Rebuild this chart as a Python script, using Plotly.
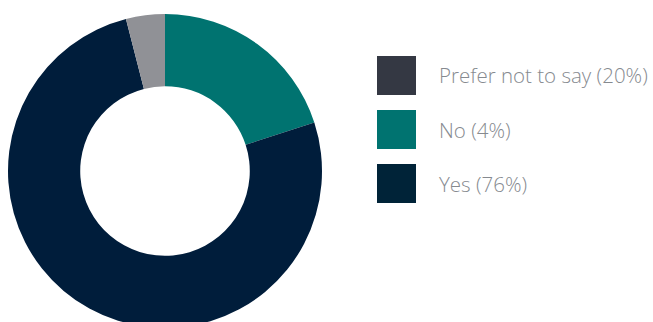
import plotly.graph_objects as go

# Donut slices (clockwise from 12 o'clock)
slice_labels = ["Teal", "Navy", "Grey"]
slice_values = [20, 76, 4]
slice_colors = ["#007370", "#001d3b", "#909196"]

# Legend entries
legend_labels = ["Prefer not to say (20%)", "No (4%)", "Yes (76%)"]
legend_colors = ["#343843", "#007370", "#002338"]

W, H = 653, 328

fig = go.Figure()

fig.add_trace(go.Pie(
    labels=slice_labels,
    values=slice_values,
    marker=dict(colors=slice_colors, line=dict(width=0)),
    hole=0.54,
    sort=False,
    direction="clockwise",
    rotation=0,
    textinfo="none",
    hoverinfo="none",
    showlegend=False,
    domain=dict(x=[8 / W, 322 / W], y=[0, 1 - 14 / H]),
))

fig.add_trace(go.Scatter(
    x=[0] * len(legend_labels),
    y=legend_labels,
    mode="markers",
    marker=dict(symbol="square", size=39, color=legend_colors, line=dict(width=0)),
    hoverinfo="none",
    showlegend=False,
))

for lab in legend_labels:
    fig.add_annotation(
        x=0, y=lab, xref="x", yref="y",
        text=lab, showarrow=False,
        xanchor="left", yanchor="middle",
        xshift=40.5,
        font=dict(family="Open Sans", size=20.5, color="#868a8f", weight=300),
    )

fig.update_layout(
    width=W, height=H,
    margin=dict(l=0, r=0, t=0, b=0),
    paper_bgcolor="white",
    plot_bgcolor="rgba(0,0,0,0)",
    showlegend=False,
    xaxis=dict(range=[-1, 1], domain=[(396.5 - 20) / W, (396.5 + 20) / W],
               visible=False, showgrid=False, zeroline=False, fixedrange=True),
    yaxis=dict(type="category", categoryorder="array", categoryarray=legend_labels,
               range=[2.5, -0.5], domain=[1 - 210.5 / H, 1 - 48.5 / H],
               visible=False, showgrid=False, zeroline=False, fixedrange=True),
)

fig.write_html("out.html", config={"displayModeBar": False})
